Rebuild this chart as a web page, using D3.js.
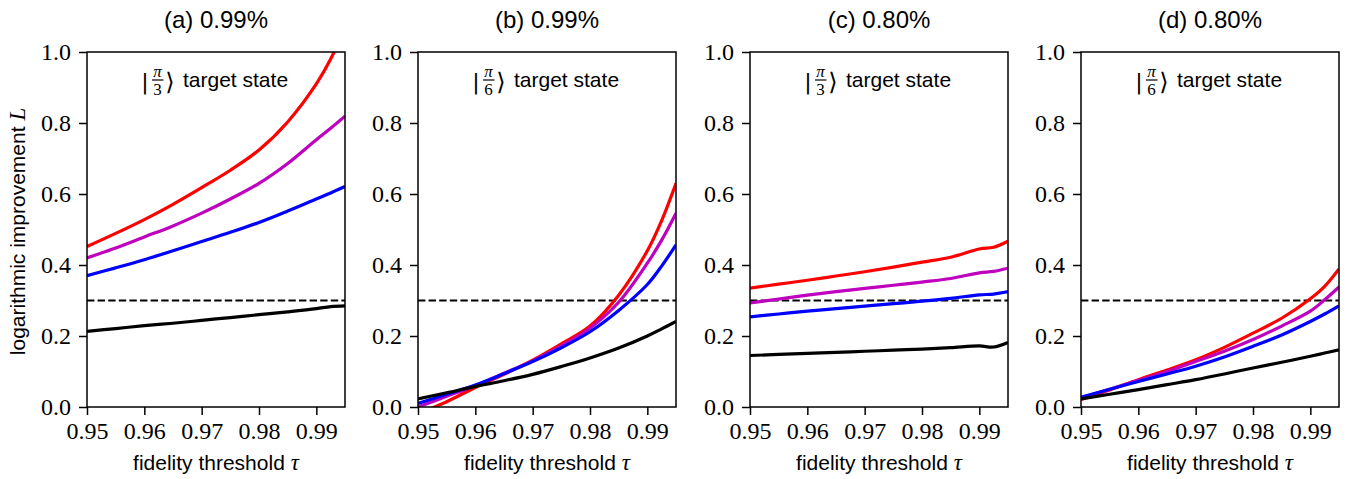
<!DOCTYPE html>
<head>
    <meta charset="utf-8">
    <script src="https://d3js.org/d3.v7.min.js"></script>
    <style>
        body { margin: 0; background: white; }
    </style>
</head>

<body>
<script>

    // fidelity threshold samples
    var tau = [0.95, 0.955, 0.96, 0.965, 0.97, 0.975, 0.98, 0.985, 0.99, 0.9925, 0.995];

    var titles = ["(a) 0.99%", "(b) 0.99%", "(c) 0.80%", "(d) 0.80%"];
    var states = ["3", "6", "3", "6"];
    var xTicks = [0.95, 0.96, 0.97, 0.98, 0.99];
    var yTicks = [0.0, 0.2, 0.4, 0.6, 0.8, 1.0];
    var threshold = 0.3;

    var redA = [0.452, 0.489, 0.528, 0.571, 0.618, 0.667, 0.724, 0.803, 0.91, 0.98, 1.07];
    var magA = [0.42, 0.448, 0.479, 0.51, 0.546, 0.586, 0.63, 0.686, 0.753, 0.785, 0.819];
    var bluA = [0.37, 0.392, 0.415, 0.44, 0.466, 0.492, 0.52, 0.552, 0.586, 0.603, 0.621];
    var blkA = [0.213, 0.221, 0.229, 0.236, 0.244, 0.252, 0.26, 0.268, 0.277, 0.283, 0.285];

    var redB = [-0.02, 0.015, 0.055, 0.092, 0.132, 0.178, 0.228, 0.315, 0.44, 0.525, 0.63];
    var magB = [0.0, 0.03, 0.06, 0.095, 0.13, 0.172, 0.222, 0.295, 0.405, 0.47, 0.546];
    var bluB = [0.01, 0.036, 0.062, 0.094, 0.128, 0.167, 0.212, 0.272, 0.345, 0.397, 0.457];
    var blkB = [0.023, 0.04, 0.058, 0.074, 0.092, 0.114, 0.138, 0.166, 0.2, 0.22, 0.241];

    var redC = [0.335, 0.346, 0.357, 0.369, 0.381, 0.394, 0.408, 0.422, 0.445, 0.45, 0.467];
    var magC = [0.293, 0.304, 0.315, 0.325, 0.334, 0.343, 0.352, 0.362, 0.378, 0.382, 0.391];
    var bluC = [0.254, 0.262, 0.27, 0.277, 0.284, 0.291, 0.298, 0.306, 0.316, 0.318, 0.325];
    var blkC = [0.145, 0.148, 0.151, 0.154, 0.157, 0.16, 0.163, 0.167, 0.172, 0.169, 0.182];

    var redD = [0.021, 0.048, 0.077, 0.104, 0.133, 0.168, 0.208, 0.25, 0.305, 0.34, 0.389];
    var magD = [0.025, 0.05, 0.075, 0.1, 0.128, 0.157, 0.19, 0.228, 0.27, 0.302, 0.338];
    var bluD = [0.028, 0.05, 0.072, 0.093, 0.115, 0.141, 0.171, 0.203, 0.241, 0.262, 0.285];
    var blkD = [0.023, 0.036, 0.049, 0.063, 0.077, 0.093, 0.11, 0.126, 0.143, 0.152, 0.161];

    var colors = ["#ff0000", "#bf00bf", "#0000ff", "#000000"];
    var panels = [
        [redA, magA, bluA, blkA],
        [redB, magB, bluB, blkB],
        [redC, magC, bluC, blkC],
        [redD, magD, bluD, blkD]
    ];

    var SANS = "Liberation Sans, Arial, sans-serif";
    var SERIF = "Liberation Serif, Times New Roman, serif";

    var lefts = [87, 418, 750, 1081];
    var pw = 258, plotTop = 52, plotBottom = 407;

    var svg = d3.select("body").append("svg")
        .attr("width", 1347)
        .attr("height", 479);

    var y = d3.scaleLinear().domain([0, 1]).range([plotBottom, plotTop]);

    panels.forEach(function(series, p) {
        var left = lefts[p];
        var x = d3.scaleLinear().domain([0.95, 0.995]).range([left, left + pw]);

        svg.append("clipPath").attr("id", "clip" + p)
            .append("rect")
            .attr("x", left).attr("y", plotTop)
            .attr("width", pw).attr("height", plotBottom - plotTop);

        var g = svg.append("g").attr("clip-path", "url(#clip" + p + ")");

        // dashed threshold
        g.append("line")
            .attr("x1", left).attr("x2", left + pw)
            .attr("y1", y(threshold)).attr("y2", y(threshold))
            .attr("stroke", "black")
            .attr("stroke-width", 2)
            .attr("stroke-dasharray", "7.4,3.2");

        var line = d3.line()
            .x(function(d, i) { return x(tau[i]); })
            .y(function(d) { return y(d); })
            .curve(d3.curveCatmullRom);

        series.forEach(function(vals, k) {
            g.append("path")
                .attr("d", line(vals))
                .attr("fill", "none")
                .attr("stroke", colors[k])
                .attr("stroke-width", 3.2);
        });

        // axes
        var xAxis = d3.axisBottom(x).tickValues(xTicks).tickSize(8).tickPadding(7)
            .tickFormat(d3.format(".2f"));
        var yAxis = d3.axisLeft(y).tickValues(yTicks).tickSize(8).tickPadding(8)
            .tickFormat(d3.format(".1f"));

        var gx = svg.append("g").attr("transform", "translate(0," + plotBottom + ")").call(xAxis);
        var gy = svg.append("g").attr("transform", "translate(" + left + ",0)").call(yAxis);
        [gx, gy].forEach(function(a) {
            a.attr("font-family", SERIF).attr("font-size", 24);
            a.select(".domain").remove();
            a.selectAll("line").attr("stroke", "black").attr("stroke-width", 1.5);
            a.selectAll("text").attr("fill", "black");
        });

        // frame
        svg.append("rect")
            .attr("x", left).attr("y", plotTop)
            .attr("width", pw).attr("height", plotBottom - plotTop)
            .attr("fill", "none")
            .attr("stroke", "black")
            .attr("stroke-width", 1.5);

        // title
        svg.append("text")
            .attr("x", left + pw / 2).attr("y", 28)
            .attr("text-anchor", "middle")
            .attr("font-family", SANS)
            .attr("font-size", 24)
            .text(titles[p]);

        // x label
        var xl = svg.append("text")
            .attr("x", left + pw / 2).attr("y", 470)
            .attr("text-anchor", "middle")
            .attr("font-family", SANS)
            .attr("font-size", 21);
        xl.append("tspan").text("fidelity threshold ");
        xl.append("tspan").attr("font-family", SERIF)
            .attr("font-style", "italic").attr("font-size", 23).text("τ");

        // annotation |pi/n> target state
        var ax = left + 58;
        svg.append("text")
            .attr("x", ax).attr("y", 89)
            .attr("font-family", "DejaVu Sans, sans-serif")
            .attr("font-size", 22)
            .attr("text-anchor", "middle")
            .text("|");
        svg.append("text")
            .attr("x", ax + 12.5).attr("y", 77)
            .attr("text-anchor", "middle")
            .attr("font-family", SERIF)
            .attr("font-style", "italic")
            .attr("font-size", 17)
            .text("π");
        svg.append("line")
            .attr("x1", ax + 7).attr("x2", ax + 18.5)
            .attr("y1", 80).attr("y2", 80)
            .attr("stroke", "black").attr("stroke-width", 1.2);
        svg.append("text")
            .attr("x", ax + 12.5).attr("y", 95)
            .attr("text-anchor", "middle")
            .attr("font-family", SERIF)
            .attr("font-size", 17)
            .text(states[p]);
        svg.append("text")
            .attr("x", ax + 25).attr("y", 90)
            .attr("text-anchor", "middle")
            .attr("font-family", "DejaVu Sans, sans-serif")
            .attr("font-size", 24)
            .text("⟩");
        svg.append("text")
            .attr("x", ax + 38).attr("y", 87)
            .attr("font-family", SANS)
            .attr("font-size", 21)
            .text("target state");
    });

    // y label
    var yl = svg.append("text")
        .attr("transform", "translate(25," + ((plotTop + plotBottom) / 2 + 2) + ") rotate(-90)")
        .attr("text-anchor", "middle")
        .attr("font-family", SANS)
        .attr("font-size", 21);
    yl.append("tspan").text("logarithmic improvement ");
    yl.append("tspan").attr("font-family", SERIF)
        .attr("font-style", "italic").attr("font-size", 23).text("L");

</script>
</body>
